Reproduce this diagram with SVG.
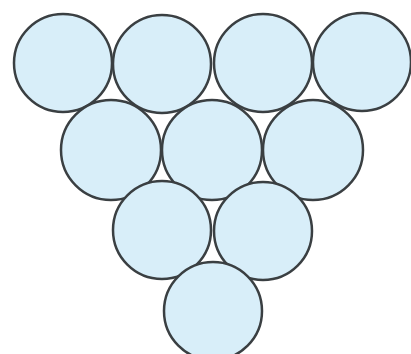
<svg xmlns="http://www.w3.org/2000/svg" width="411" height="354" viewBox="0 0 411 354">
<style>
.c{fill:#d8eef9;stroke:#3a3f42;stroke-width:2.5}
</style>
<rect width="411" height="354" fill="#ffffff"/>
<g id="r1c1"><circle class="c" cx="63" cy="63" r="49"/></g>
<g id="r1c2"><circle class="c" cx="162" cy="64" r="49"/></g>
<g id="r1c3"><circle class="c" cx="263" cy="63" r="49"/></g>
<g id="r1c4"><circle class="c" cx="362" cy="62" r="49"/></g>
<g id="r2c1"><circle class="c" cx="111" cy="150" r="50"/></g>
<g id="r2c2"><circle class="c" cx="212" cy="150" r="50"/></g>
<g id="r2c3"><circle class="c" cx="313" cy="150" r="50"/></g>
<g id="r3c1"><circle class="c" cx="162" cy="230" r="49"/></g>
<g id="r3c2"><circle class="c" cx="263" cy="231" r="49"/></g>
<g id="r4c1"><circle class="c" cx="213" cy="311" r="49"/></g>
</svg>
